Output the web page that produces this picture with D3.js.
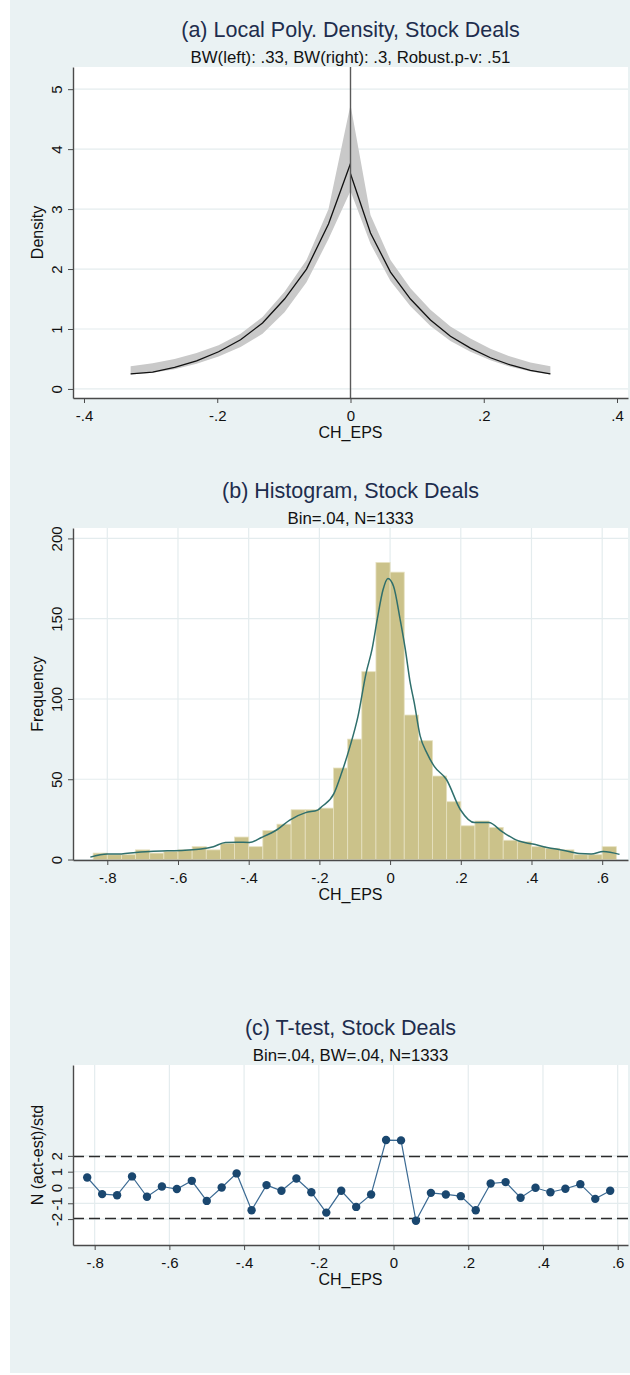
<!DOCTYPE html>
<html>
<head>
<meta charset="utf-8">
<script src="https://cdn.jsdelivr.net/npm/d3@7"></script>
<style>
  body { margin: 0; background: #fff; }
  svg { display: block; font-family: "Liberation Sans", Arial, sans-serif; }
</style>
</head>
<body>
<svg id="chart" width="630" height="1375"></svg>
<script>
// (a) local polynomial density, left and right of the cutoff
const polyLeftX  = [-0.33, -0.297, -0.264, -0.231, -0.198, -0.165, -0.132, -0.099, -0.066, -0.033, 0];
const polyLeftY  = [0.25, 0.28, 0.36, 0.47, 0.62, 0.82, 1.1, 1.5, 2.0, 2.75, 3.76];
const polyLeftLo = [0.24, 0.27, 0.33, 0.42, 0.54, 0.70, 0.92, 1.28, 1.78, 2.5, 3.3];
const polyLeftHi = [0.38, 0.43, 0.5, 0.6, 0.73, 0.92, 1.2, 1.62, 2.15, 3.0, 4.74];
const polyRightX  = [0, 0.03, 0.06, 0.09, 0.12, 0.15, 0.18, 0.21, 0.24, 0.27, 0.3];
const polyRightY  = [3.59, 2.6, 1.95, 1.5, 1.15, 0.88, 0.68, 0.52, 0.40, 0.31, 0.25];
const polyRightLo = [3.3, 2.42, 1.8, 1.38, 1.05, 0.8, 0.62, 0.48, 0.37, 0.29, 0.24];
const polyRightHi = [4.74, 2.9, 2.15, 1.68, 1.32, 1.04, 0.84, 0.67, 0.54, 0.44, 0.38];
const xTicksA = [-0.4, -0.2, 0, 0.2, 0.4];
const xLabelsA = ["-.4", "-.2", "0", ".2", ".4"];
const yTicksA = [0, 1, 2, 3, 4, 5];
const yLabelsA = ["0", "1", "2", "3", "4", "5"];

// (b) histogram, bin width .04
const binWidth = 0.04;
const histLeft = [-0.84, -0.80, -0.76, -0.72, -0.68, -0.64, -0.60, -0.56, -0.52, -0.48, -0.44, -0.40, -0.36,
                  -0.32, -0.28, -0.24, -0.20, -0.16, -0.12, -0.08, -0.04, 0.00, 0.04, 0.08, 0.12, 0.16,
                  0.20, 0.24, 0.28, 0.32, 0.36, 0.40, 0.44, 0.48, 0.52, 0.56, 0.60];
const histCount = [4, 3, 3, 6, 4, 5, 6, 8, 6, 10, 14, 8, 18,
                   22, 31, 31, 32, 57, 75, 117, 185, 179, 90, 74, 52, 36,
                   21, 24, 20, 12, 11, 8, 7, 6, 3, 3, 8];
const kdeX = [-0.848, -0.8, -0.76, -0.72, -0.67, -0.63, -0.58, -0.535, -0.5, -0.466, -0.432, -0.398, -0.364,
              -0.319, -0.284, -0.239, -0.205, -0.193, -0.159, -0.137, -0.114, -0.091, -0.068, -0.051, -0.036,
              -0.02, -0.006, 0.01, 0.028, 0.043, 0.057, 0.068, 0.085, 0.105, 0.125, 0.159, 0.199, 0.239,
              0.279, 0.319, 0.364, 0.404, 0.444, 0.489, 0.535, 0.569, 0.603, 0.649];
const kdeY = [1.5, 3.5, 3.5, 4.4, 5.2, 5.4, 5.8, 6.5, 8, 10.6, 10.8, 10.6, 13.7,
              18.7, 24.6, 29.2, 30.8, 33, 41, 54, 70, 89, 116, 131, 150,
              168, 175, 170, 150, 131, 110, 98, 77, 66, 58, 50, 31, 23,
              23, 17, 11.5, 9.6, 7.5, 5.8, 3.8, 3.5, 5, 3.2];
const xTicksB = [-0.8, -0.6, -0.4, -0.2, 0, 0.2, 0.4, 0.6];
const xLabelsB = ["-.8", "-.6", "-.4", "-.2", "0", ".2", ".4", ".6"];
const yTicksB = [0, 50, 100, 150, 200];
const yLabelsB = ["0", "50", "100", "150", "200"];

// (c) t-test by bin
const ttX = [-0.82, -0.78, -0.74, -0.70, -0.66, -0.62, -0.58, -0.54, -0.50, -0.46, -0.42, -0.38,
             -0.34, -0.30, -0.26, -0.22, -0.18, -0.14, -0.10, -0.06, -0.02, 0.02, 0.06, 0.10,
             0.14, 0.18, 0.22, 0.26, 0.30, 0.34, 0.38, 0.42, 0.46, 0.50, 0.54, 0.58];
const ttY = [0.63, -0.42, -0.49, 0.70, -0.59, 0.06, -0.10, 0.42, -0.85, 0.00, 0.89, -1.44,
             0.15, -0.21, 0.57, -0.30, -1.59, -0.21, -1.23, -0.44, 3.00, 2.98, -2.11, -0.34,
             -0.44, -0.55, -1.44, 0.25, 0.34, -0.65, -0.02, -0.30, -0.08, 0.21, -0.72, -0.21];
const critLines = [1.96, -1.96];
const yTicksC = [-2, -1, 0, 1, 2];
const yLabelsC = ["-2", "-1", "0", "1", "2"];

const svg = d3.select("#chart");
const gridColor = "#e4ecee";
const axisColor = "#4a4a4a";

svg.append("rect")
  .attr("x", 10).attr("y", 0)
  .attr("width", 620).attr("height", 1373)
  .attr("fill", "#eaf2f3");

function panel(p) {
  const x = d3.scaleLinear().domain(p.xDomain).range([p.left, p.right]);
  const y = d3.scaleLinear().domain(p.yDomain).range([p.bottom, p.top]);
  const g = svg.append("g");

  g.append("rect")
    .attr("x", p.left).attr("y", p.top)
    .attr("width", p.right - p.left).attr("height", p.bottom - p.top)
    .attr("fill", "#fff");

  g.selectAll(".hgrid").data(p.yTicks).join("line")
    .attr("x1", p.left).attr("x2", p.right)
    .attr("y1", d => y(d)).attr("y2", d => y(d))
    .attr("stroke", gridColor).attr("stroke-width", 1.2);

  if (p.vgrid) {
    g.selectAll(".vgrid").data(p.xTicks).join("line")
      .attr("y1", p.top).attr("y2", p.bottom)
      .attr("x1", d => x(d)).attr("x2", d => x(d))
      .attr("stroke", gridColor).attr("stroke-width", 1.2);
  }

  const cx = (p.left + p.right) / 2;
  svg.append("text")
    .attr("x", cx).attr("y", p.top - 30)
    .attr("text-anchor", "middle")
    .attr("font-size", 21.5).attr("fill", "#1e2d4d")
    .text(p.title);
  svg.append("text")
    .attr("x", cx).attr("y", p.top - 4.5)
    .attr("text-anchor", "middle")
    .attr("font-size", 16.8).attr("fill", "#111")
    .text(p.subtitle);

  return { g, x, y, p };
}

function axes(pn) {
  const { x, y, p } = pn;
  const xa = svg.append("g")
    .attr("transform", `translate(0,${p.bottom})`)
    .call(d3.axisBottom(x).tickValues(p.xTicks).tickFormat((d, i) => p.xLabels[i]).tickSize(5).tickSizeOuter(0));
  xa.select(".domain").attr("stroke", axisColor).attr("stroke-width", 1.4);
  xa.selectAll(".tick line").attr("stroke", axisColor);
  xa.selectAll(".tick text")
    .attr("font-family", null).attr("font-size", 15).attr("fill", "#111")
    .attr("y", 23).attr("dy", 0);
  xa.attr("font-family", null);

  const ya = svg.append("g")
    .attr("transform", `translate(${p.left},0)`)
    .call(d3.axisLeft(y).tickValues(p.yTicks).tickFormat((d, i) => p.yLabels[i]).tickSize(5).tickSizeOuter(0));
  ya.select(".domain").attr("stroke", axisColor).attr("stroke-width", 1.4);
  ya.selectAll(".tick line").attr("stroke", axisColor);
  ya.selectAll(".tick text")
    .attr("font-family", null).attr("font-size", 15).attr("fill", "#111")
    .attr("x", 0).attr("y", -11).attr("dy", 0)
    .attr("text-anchor", "middle")
    .attr("transform", "rotate(-90)");
  ya.attr("font-family", null);

  svg.append("text")
    .attr("x", (p.left + p.right) / 2).attr("y", p.bottom + 40)
    .attr("text-anchor", "middle").attr("font-size", 16).attr("fill", "#111")
    .text(p.xTitle);
  svg.append("text")
    .attr("transform", `translate(43,${(p.top + p.bottom) / 2}) rotate(-90)`)
    .attr("text-anchor", "middle").attr("font-size", 16).attr("fill", "#111")
    .text(p.yTitle);
}

// ---- panel (a)
const A = panel({
  left: 73, right: 628, top: 67, bottom: 398,
  xDomain: [-0.4165, 0.4165], yDomain: [-0.151, 5.37],
  xTicks: xTicksA, xLabels: xLabelsA, yTicks: yTicksA, yLabels: yLabelsA, vgrid: false,
  title: "(a) Local Poly. Density, Stock Deals",
  subtitle: "BW(left): .33, BW(right): .3, Robust.p-v: .51",
  xTitle: "CH_EPS", yTitle: "Density"
});

const leftPts = polyLeftX.map((v, i) => ({ x: v, y: polyLeftY[i], lo: polyLeftLo[i], hi: polyLeftHi[i] }));
const rightPts = polyRightX.map((v, i) => ({ x: v, y: polyRightY[i], lo: polyRightLo[i], hi: polyRightHi[i] }));
const band = d3.area().x(d => A.x(d.x)).y0(d => A.y(d.lo)).y1(d => A.y(d.hi));
const dens = d3.line().x(d => A.x(d.x)).y(d => A.y(d.y));

[leftPts, rightPts].forEach(pts => {
  A.g.append("path").attr("d", band(pts)).attr("fill", "#c9c9c9");
});
[leftPts, rightPts].forEach(pts => {
  A.g.append("path").attr("d", dens(pts)).attr("fill", "none")
    .attr("stroke", "#111").attr("stroke-width", 1.3);
});
A.g.append("line")
  .attr("x1", A.x(0)).attr("x2", A.x(0))
  .attr("y1", 67).attr("y2", 398)
  .attr("stroke", "#5a5a5a").attr("stroke-width", 1.4);
axes(A);

// ---- panel (b)
const B = panel({
  left: 73, right: 628, top: 528, bottom: 860,
  xDomain: [-0.897, 0.673], yDomain: [-0.3, 206.5],
  xTicks: xTicksB, xLabels: xLabelsB, yTicks: yTicksB, yLabels: yLabelsB, vgrid: true,
  title: "(b) Histogram, Stock Deals",
  subtitle: "Bin=.04, N=1333",
  xTitle: "CH_EPS", yTitle: "Frequency"
});

B.g.selectAll(".bar").data(histLeft).join("rect")
  .attr("x", d => B.x(d))
  .attr("width", d => B.x(d + binWidth) - B.x(d))
  .attr("y", (d, i) => B.y(histCount[i]))
  .attr("height", (d, i) => B.y(0) - B.y(histCount[i]))
  .attr("fill", "#cbc28a")
  .attr("stroke", "#e6e1c0").attr("stroke-width", 0.8);

B.g.append("path")
  .attr("d", d3.line().curve(d3.curveMonotoneX)
    .x(d => B.x(d)).y((d, i) => B.y(kdeY[i]))(kdeX))
  .attr("fill", "none").attr("stroke", "#2f6f6c").attr("stroke-width", 1.5);
axes(B);

// ---- panel (c)
const C = panel({
  left: 73, right: 628, top: 1065, bottom: 1245,
  xDomain: [-0.858, 0.6276], yDomain: [-3.64, 7.75],
  xTicks: xTicksB, xLabels: xLabelsB, yTicks: yTicksC, yLabels: yLabelsC, vgrid: true,
  title: "(c) T-test, Stock Deals",
  subtitle: "Bin=.04, BW=.04, N=1333",
  xTitle: "CH_EPS", yTitle: "N (act-est)/std"
});

C.g.selectAll(".crit").data(critLines).join("line")
  .attr("x1", 73).attr("x2", 628)
  .attr("y1", d => C.y(d)).attr("y2", d => C.y(d))
  .attr("stroke", "#2b2b2b").attr("stroke-width", 1.6)
  .attr("stroke-dasharray", "11,5");

C.g.append("path")
  .attr("d", d3.line().x(d => C.x(d)).y((d, i) => C.y(ttY[i]))(ttX))
  .attr("fill", "none").attr("stroke", "#3b6a93").attr("stroke-width", 1.2);

C.g.selectAll(".pt").data(ttX).join("circle")
  .attr("cx", d => C.x(d))
  .attr("cy", (d, i) => C.y(ttY[i]))
  .attr("r", 4.2)
  .attr("fill", "#1a476f");
axes(C);
</script>
</body>
</html>
